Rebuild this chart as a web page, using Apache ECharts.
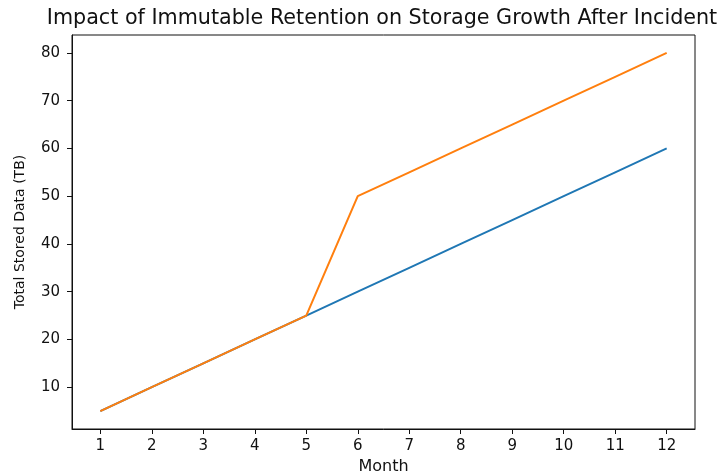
<!DOCTYPE html>
<html><head><meta charset="utf-8">
<script src="https://cdn.jsdelivr.net/npm/echarts@6/dist/echarts.min.js"></script>
<style>html,body{margin:0;padding:0;background:#fff}#c{width:722px;height:474px}</style>
</head><body><div id="c"></div>
<script>
const months = [1,2,3,4,5,6,7,8,9,10,11,12];
const withoutImmutable = [5,10,15,20,25,30,35,40,45,50,55,60];
const withImmutable = [5,10,15,20,25,50,55,60,65,70,75,80];
const yTicks = [10,20,30,40,50,60,70,80];
const font = 'DejaVu Sans';
const chart = echarts.init(document.getElementById('c'), null, {renderer:'canvas'});
const axisCommon = {
  axisLine:{show:true,onZero:false,lineStyle:{color:'#111',width:1}},
  axisTick:{show:true,length:5,lineStyle:{color:'#111',width:1}},
  splitLine:{show:false},
  axisLabel:{color:'#111',fontFamily:font,fontSize:15}
};
chart.setOption({
  animation:false,
  title:{text:'Impact of Immutable Retention on Storage Growth After Incident',left:382,textAlign:'center',top:8,padding:0,
    textStyle:{fontFamily:font,fontSize:20.7,fontWeight:'normal',color:'#111'}},
  grid:{left:72,right:27,top:35,bottom:45,containLabel:false,outerBoundsMode:'none',show:true,borderColor:'#111',borderWidth:1,backgroundColor:'transparent'},
  xAxis:Object.assign({},axisCommon,{type:'value',min:0.45,max:12.55,
    name:'Month',nameLocation:'middle',nameGap:30,nameTextStyle:{fontFamily:font,fontSize:16,color:'#111'},
    axisTick:Object.assign({},axisCommon.axisTick,{customValues:months}),
    axisLabel:Object.assign({},axisCommon.axisLabel,{customValues:months,margin:10})}),
  yAxis:Object.assign({},axisCommon,{type:'value',min:1.25,max:83.75,
    name:'Total Stored Data (TB)',nameLocation:'middle',nameGap:45,nameTextStyle:{fontFamily:font,fontSize:14,color:'#111'},
    axisTick:Object.assign({},axisCommon.axisTick,{customValues:yTicks}),
    axisLabel:Object.assign({},axisCommon.axisLabel,{customValues:yTicks,margin:12})}),
  series:[
    {type:'line',data:months.map((m,i)=>[m,withoutImmutable[i]]),showSymbol:false,lineStyle:{color:'#1f77b4',width:2},itemStyle:{color:'#1f77b4'}},
    {type:'line',data:months.map((m,i)=>[m,withImmutable[i]]),showSymbol:false,lineStyle:{color:'#ff7f0e',width:2},itemStyle:{color:'#ff7f0e'}}
  ]
});
</script></body></html>
